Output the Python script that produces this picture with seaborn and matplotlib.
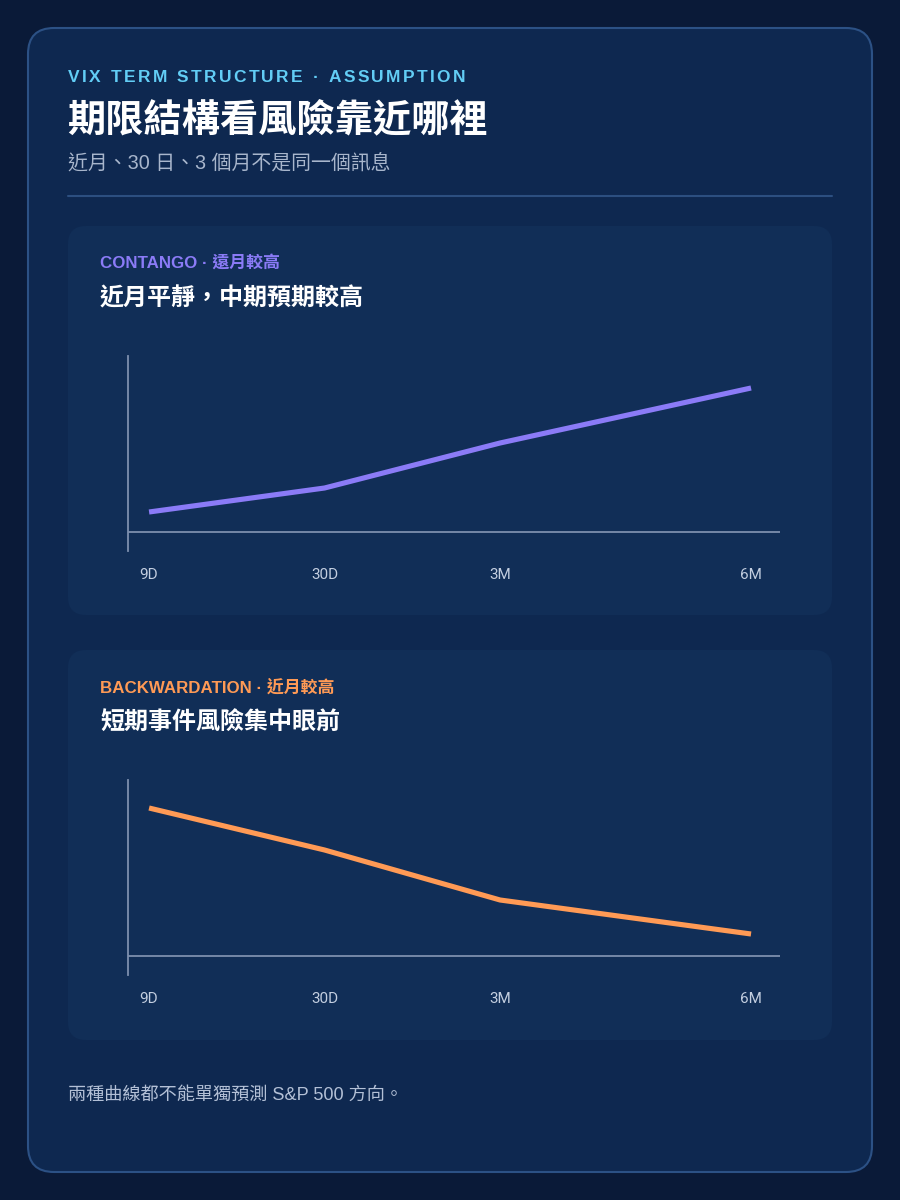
import matplotlib
matplotlib.use("Agg")
import matplotlib.pyplot as plt
import seaborn as sns
import pandas as pd
from matplotlib.patches import FancyBboxPatch
from matplotlib.transforms import IdentityTransform
from matplotlib.lines import Line2D

# ---------------- data ----------------
tenors = ["9D", "30D", "3M", "6M"]
tenor_pos = [0.0, 1.0, 2.0, 3.43]
contango_vix = [14.0, 16.4, 20.9, 26.4]
backwardation_vix = [26.8, 22.6, 17.6, 14.2]
baseline_level = 12.0

header_kicker = "VIX TERM STRUCTURE · ASSUMPTION"
header_title = "期限結構看風險靠近哪裡"
header_sub = "近月、30 日、3 個月不是同一個訊息"
panel_kickers = ["CONTANGO · 遠月較高", "BACKWARDATION · 近月較高"]
panel_titles = ["近月平靜，中期預期較高", "短期事件風險集中眼前"]
footer_note = "兩種曲線都不能單獨預測 S&P 500 方向。"

# ---------------- style ----------------
sns.set_theme(style="white")
FAM = ["Liberation Sans", "Noto Sans CJK TC", "DejaVu Sans"]
plt.rcParams["font.family"] = FAM

W, H = 900, 1200
BG = "#0a1a38"
CARD = "#0e2850"
CARD_EDGE = "#2c5185"
PANEL = "#112e57"
AXIS_C = "#7d8fae"
TICK_C = "#c3cee0"
PURPLE = "#8b7bf7"
ORANGE = "#ff9a55"
CYAN = "#62cdf5"

fig = plt.figure(figsize=(W / 100, H / 100), dpi=100)
fig.patch.set_facecolor(BG)
ID = IdentityTransform()


def rbox(x0, y0, x1, y1, r, fc, ec="none", lw=0):
    p = FancyBboxPatch((x0 + r, H - y1 + r), (x1 - x0) - 2 * r, (y1 - y0) - 2 * r,
                       boxstyle=f"round,pad={r},rounding_size={r}",
                       transform=ID, facecolor=fc, edgecolor=ec, linewidth=lw,
                       zorder=0.5)
    fig.add_artist(p)


def ftext(x, y, s, **kw):
    return fig.text(x / W, 1 - y / H, s, va="center", ha="left", **kw)


def spaced_text(x, y, s, target_width, **kw):
    renderer = fig.canvas.get_renderer()
    widths = []
    for ch in s:
        t = fig.text(0, 0, ch if ch != " " else "a", **kw)
        bb = t.get_window_extent(renderer)
        widths.append(bb.width if ch != " " else bb.width * 0.55)
        t.remove()
    nat = sum(widths)
    sp = (target_width - nat) / (len(s) - 1)
    cx = x
    for ch, w in zip(s, widths):
        if ch != " ":
            ftext(cx, y, ch, **kw)
        cx += w + sp


# card and panels
rbox(28, 28, 872, 1172, 26, CARD, CARD_EDGE, 1.5)
rbox(68, 226, 832, 615, 18, PANEL)
rbox(68, 650, 832, 1040, 18, PANEL)

# header
spaced_text(68, 77, header_kicker, 397, fontsize=12.5, fontweight="bold", color=CYAN)
ftext(67, 121, header_title, fontsize=27.5, fontweight="bold", color="white")
ftext(68, 163, header_sub, fontsize=14.3, color="#a8b6cc")
fig.add_artist(Line2D([68, 832], [H - 196, H - 196], transform=ID,
                      color="#2c4f80", linewidth=1.5))

# panels
panel_tops = [226, 650]
series = [contango_vix, backwardation_vix]
colors = [PURPLE, ORANGE]
for i in range(2):
    off = panel_tops[i] - 226
    ftext(100, 263 + off, panel_kickers[i], fontsize=12.2, fontweight="bold", color=colors[i])
    ftext(100, 299 + off, panel_titles[i], fontsize=17.3, fontweight="bold", color="white")

    ax_top, ax_bot = 356 + off, 551 + off
    ax = fig.add_axes([128 / W, 1 - ax_bot / H, (780 - 128) / W, (ax_bot - ax_top) / H])
    ax.set_zorder(3)
    ax.patch.set_alpha(0)
    df = pd.DataFrame({"pos": tenor_pos, "vix": series[i]})
    sns.lineplot(data=df, x="pos", y="vix", ax=ax, color=colors[i], linewidth=3.7,
                 solid_capstyle="butt", solid_joinstyle="round")
    ax.axhline(baseline_level, color=AXIS_C, linewidth=1.3)
    ax.set_xlim(-0.12, 3.595)
    ax.set_ylim(10.1, 29.6)
    for s in ["top", "right", "bottom"]:
        ax.spines[s].set_visible(False)
    ax.spines["left"].set_color(AXIS_C)
    ax.spines["left"].set_linewidth(1.3)
    ax.set_yticks([])
    ax.set_xticks(tenor_pos, tenors)
    ax.tick_params(axis="x", length=0, pad=12.5, labelsize=11, labelcolor=TICK_C)
    for lab in ax.get_xticklabels():
        lab.set_fontfamily(["Roboto", "DejaVu Sans"])
    ax.set_xlabel("")
    ax.set_ylabel("")

# footer
ftext(68, 1095, footer_note, fontsize=13.1, color="#b3c0d6")

fig.savefig("out.png", dpi=100, facecolor=BG)
